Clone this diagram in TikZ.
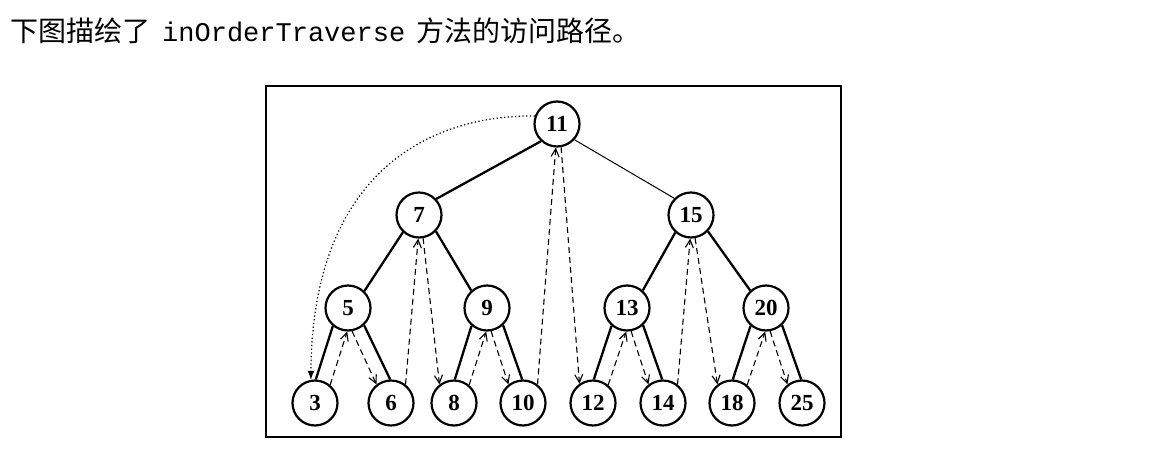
\documentclass[tikz,border=0pt]{standalone}
\usepackage{fontspec}
\setmainfont{Liberation Serif}
\newfontfamily\cjkfont{Noto Sans CJK SC}
\newfontfamily\codefont{Liberation Mono}
\usetikzlibrary{arrows.meta}

\begin{document}
\begin{tikzpicture}[x=1pt,y=-1pt,
  treenode/.style={circle, draw, line width=2.2pt, minimum size=45pt, inner sep=0pt,
                   font=\fontsize{23}{23}\selectfont\bfseries},
  branch/.style={line width=2.3pt},
  thinbranch/.style={line width=1pt},
  visit/.style={dash pattern=on 6pt off 4pt, line width=1.1pt,
                -{Straight Barb[length=8pt,width=8pt]}},
  jump/.style={dash pattern=on 1.3pt off 2.4pt, line width=1.2pt,
               -{Latex[length=9pt,width=7pt]}}
]
\useasboundingbox (0,0) rectangle (1156,466);

% caption line
\node[anchor=base west, inner sep=0pt] (caption) at (10,41)
  {\cjkfont\fontsize{28}{28}\selectfont 下图描绘了\hspace{12pt}{\codefont\fontsize{27}{27}\selectfont inOrderTraverse}\hspace{11pt}方法的访问路径。};

% frame
\draw[line width=1.4pt] (266,86) rectangle (841,437);

% tree nodes
\node[treenode] (n11) at (557,124) {11};
\node[treenode] (n7)  at (419,215) {7};
\node[treenode] (n15) at (691,215) {15};
\node[treenode] (n5)  at (348,308) {5};
\node[treenode] (n9)  at (487,308) {9};
\node[treenode] (n13) at (627,308) {13};
\node[treenode] (n20) at (766,308) {20};
\node[treenode] (n3)  at (315,403) {3};
\node[treenode] (n6)  at (391,403) {6};
\node[treenode] (n8)  at (454,403) {8};
\node[treenode] (n10) at (523,403) {10};
\node[treenode] (n12) at (593,403) {12};
\node[treenode] (n14) at (663,403) {14};
\node[treenode] (n18) at (732,403) {18};
\node[treenode] (n25) at (802,403) {25};

% tree edges
\draw[branch] (n11.-133) -- (n7.43);
\draw[thinbranch] (n11.-42) -- (n15.135);
\draw[branch] (n7.-133) -- (n5.46);
\draw[branch] (n7.-44) -- (n9.132);
\draw[branch] (n15.-132) -- (n13.48);
\draw[branch] (n15.-44) -- (n20.132);
\draw[branch] (n5.-130) -- (n3.88);
\draw[branch] (n5.-47) -- (n6.92);
\draw[branch] (n9.-131) -- (n8.88);
\draw[branch] (n9.-47) -- (n10.92);
\draw[branch] (n13.-131) -- (n12.88);
\draw[branch] (n13.-47) -- (n14.92);
\draw[branch] (n20.-131) -- (n18.88);
\draw[branch] (n20.-47) -- (n25.92);

% descent from the root to the leftmost leaf
\draw[jump] (n11.160) .. controls (420,115) and (312,182) .. (n3.100);

% in-order visiting path
\draw[visit] (n3.50)  -- (n5.-92);
\draw[visit] (n5.-80) -- (n6.128);
\draw[visit] (n6.52)  -- (n7.-92);
\draw[visit] (n7.-80) -- (n8.128);
\draw[visit] (n8.50)  -- (n9.-92);
\draw[visit] (n9.-80) -- (n10.128);
\draw[visit] (n10.52) -- (n11.-93);
\draw[visit] (n11.-80) -- (n12.125);
\draw[visit] (n12.50) -- (n13.-92);
\draw[visit] (n13.-80) -- (n14.128);
\draw[visit] (n14.52) -- (n15.-92);
\draw[visit] (n15.-80) -- (n18.128);
\draw[visit] (n18.50) -- (n20.-92);
\draw[visit] (n20.-80) -- (n25.128);
\end{tikzpicture}
\end{document}
